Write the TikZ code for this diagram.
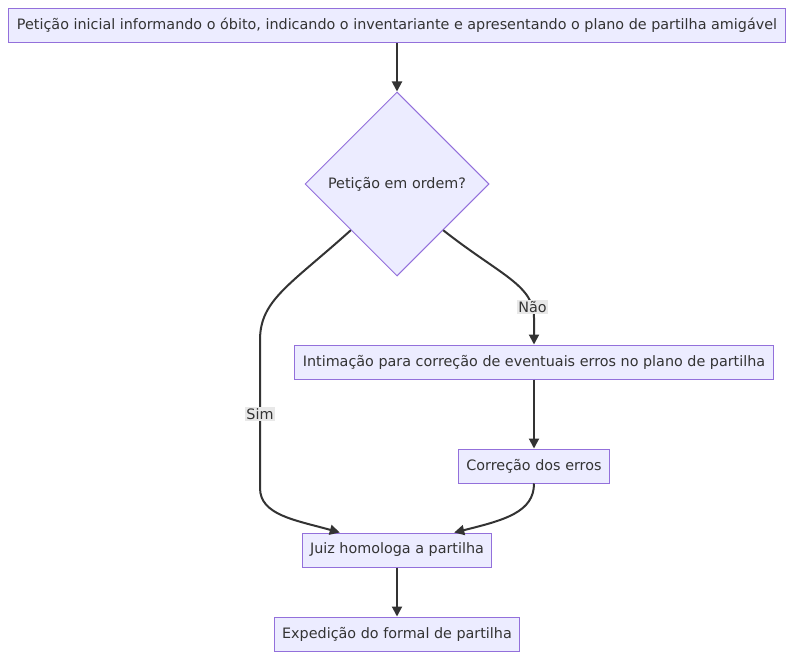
\documentclass[tikz,border=0pt]{standalone}
\usepackage{fontspec}
\setmainfont{DejaVu Sans}
\usetikzlibrary{shapes.geometric,arrows.meta}
\definecolor{boxfill}{HTML}{ECECFF}
\definecolor{boxline}{HTML}{9370DB}
\definecolor{edgeline}{HTML}{333333}
\definecolor{lblfill}{HTML}{E8E8E8}

\begin{document}
\begin{tikzpicture}[x=1pt, y=-1pt, font=\fontsize{14.35pt}{17pt}\selectfont, text=edgeline,
  caixa/.style={draw=boxline, fill=boxfill, line width=1pt, minimum height=34pt, inner xsep=8pt},
  losango/.style={diamond, draw=boxline, fill=boxfill, line width=1pt,
                  minimum width=184pt, minimum height=184pt, inner sep=0pt},
  seta/.style={draw=edgeline, line width=2pt, -{Triangle[length=10pt,width=10pt]}},
  rotulo/.style={fill=lblfill, inner sep=1.5pt}]

  \useasboundingbox (0,0) rectangle (794,659);

  % ---- steps ----
  \node[caixa]   (pet)   at (397,25.5) {Petição inicial informando o óbito, indicando o inventariante e apresentando o plano de partilha amigável};
  \node[losango] (ordem) at (397,184)  {Petição em ordem?};
  \node[caixa]   (intim) at (534,362)  {Intimação para correção de eventuais erros no plano de partilha};
  \node[caixa]   (corr)  at (534,466)  {Correção dos erros};
  \node[caixa]   (juiz)  at (397,550)  {Juiz homologa a partilha};
  \node[caixa]   (exped) at (397,634)  {Expedição do formal de partilha};

  % ---- straight connectors ----
  \draw[seta] (pet) -- (ordem);
  \draw[seta] (intim) -- (corr);
  \draw[seta] (juiz) -- (exped);

  % ---- curved connectors ----
  \draw[seta] (ordem.south east) .. controls (500,275) and (534,285) .. (534,318)
      node[rotulo, pos=0.88] {Não} -- (intim.north);
  \draw[seta] (ordem.south west) .. controls (290,285) and (260,300) .. (260,340)
      -- (260,488) node[rotulo, pos=0.5] {Sim}
      .. controls (260,515) and (295,520) .. (juiz.163);
  \draw[seta] (corr.south) .. controls (534,512) and (505,520) .. (juiz.17);

\end{tikzpicture}
\end{document}
